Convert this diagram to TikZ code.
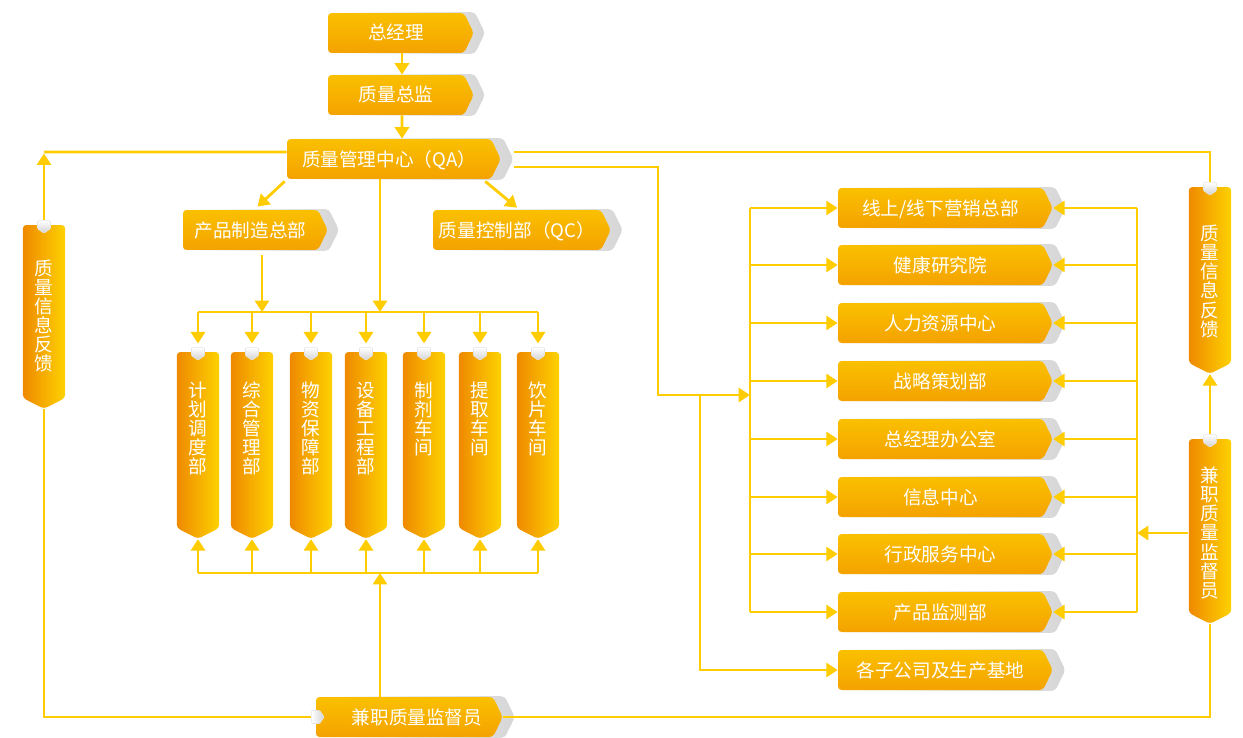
\documentclass[tikz,border=0pt]{standalone}
\usepackage{fontspec}
\setmainfont{Noto Sans CJK SC}
\usetikzlibrary{shapes.symbols,shadows,arrows.meta}

\definecolor{wiregold}{HTML}{FFCC00}
\definecolor{tagtop}{HTML}{FAC000}
\definecolor{tagbot}{HTML}{F4A200}
\definecolor{pillarleft}{HTML}{EF8900}
\definecolor{pillarright}{HTML}{FDD200}

\newcommand{\vstack}[1]{\parbox[t]{1.2em}{\centering #1}}

\begin{document}
\begin{tikzpicture} [x=0.02cm,y=-0.02cm,
	every node/.style={font=\fontsize{10.6}{10.9}\selectfont,text=white},
	tagbox/.style={signal,signal to=east,signal pointer angle=128,inner sep=0pt,text height=0.54cm,text depth=0.26cm,align=center,rounded corners=2pt,top color=tagtop,bottom color=tagbot,general shadow={shadow scale=1.04,shadow xshift=0.16cm,left color=white,right color=black!16}},
	pillar/.style={signal,signal to=south,signal pointer angle=126,inner xsep=0.2cm,inner ysep=0pt,text height=0.9cm,text depth=2.62cm,rounded corners=2pt,left color=pillarleft,right color=pillarright},
	notch/.style={signal,signal to=south,signal pointer angle=110,inner xsep=0.13cm,inner ysep=0.08cm,rounded corners=0.5pt,top color=white,bottom color=black!18,draw=black!10,line width=0.3pt},
	wire/.style={draw=wiregold,line width=1.6pt},
	wirearr/.style={wire,-{Triangle[width=8pt,length=6.5pt]}}]
			\path[use as bounding box,fill=white] (0,0) rectangle (1243,737);
			% management chain
			\node[tagbox,text width=2.72cm] (gm) at (396,33) {总经理};
			\node[tagbox,text width=2.72cm] (dir) at (396,95) {质量总监};
			\node[tagbox,text width=4.08cm] (qa) at (389,159) {质量管理中心（QA）};
			\node[tagbox,text width=2.7cm] (mfg) at (250.5,230) {产品制造总部};
			\node[tagbox,text width=3.36cm] (qc) at (517,230) {质量控制部（QC）};
			\node[tagbox,text width=3.54cm] (sup) at (404.5,717) {\hspace*{0.5cm}兼职质量监督员};
			% workshops
			\node[pillar] (sched) at (198,440) {\vstack{计\\划\\调\\度\\部}};
			\node[pillar] (integ) at (252,440) {\vstack{综\\合\\管\\理\\部}};
			\node[pillar] (supply) at (311,440) {\vstack{物\\资\\保\\障\\部}};
			\node[pillar] (equip) at (366,440) {\vstack{设\\备\\工\\程\\部}};
			\node[pillar] (prep) at (424,440) {\vstack{制\\剂\\车\\间}};
			\node[pillar] (extr) at (480,440) {\vstack{提\\取\\车\\间}};
			\node[pillar] (slice) at (538,440) {\vstack{饮\\片\\车\\间}};
			% feedback columns
			\node[pillar,text height=1.0cm,text depth=2.46cm] (fbL) at (44,311.5) {\vstack{质\\量\\信\\息\\反\\馈}};
			\node[pillar,text height=1.07cm,text depth=2.45cm] (fbR) at (1210,275) {\vstack{质\\量\\信\\息\\反\\馈}};
			\node[pillar,text height=0.87cm,text depth=2.61cm] (supR) at (1210,526) {\vstack{兼\\职\\质\\量\\监\\督\\员}};
			% departments
			\node[tagbox,text width=4.1cm] (web) at (940.5,208) {线上/线下营销总部};
			\node[tagbox,text width=4.1cm] (rnd) at (940.5,265) {健康研究院};
			\node[tagbox,text width=4.1cm] (hr) at (940.5,323) {人力资源中心};
			\node[tagbox,text width=4.1cm] (plan) at (940.5,381) {战略策划部};
			\node[tagbox,text width=4.1cm] (office) at (940.5,439) {总经理办公室};
			\node[tagbox,text width=4.1cm] (info) at (940.5,497) {信息中心};
			\node[tagbox,text width=4.1cm] (admin) at (940.5,554) {行政服务中心};
			\node[tagbox,text width=4.1cm] (test) at (940.5,612) {产品监测部};
			\node[tagbox,text width=4.1cm] (sub) at (940.5,670) {各子公司及生产基地};
			% notches
			\node[notch] (fbL-n) at (fbL.north) {};
			\node[notch] (fbR-n) at (fbR.north) {};
			\node[notch] (supR-n) at (supR.north) {};
			\node[notch,signal to=east,inner xsep=0.08cm,inner ysep=0.13cm,left color=white,right color=black!18] (sup-n) at (sup.west) {};
			\coordinate (topbus) at (380,312);
			\coordinate (botbus) at (380,573);
			\coordinate (mfgdrop) at (262,312);
			\coordinate (fbLc) at (44,152);
			\coordinate (qaturn) at (658,395);
			\coordinate (subturn) at (700,395);
			\coordinate (rbus) at (750,395);
			\coordinate (fbus) at (1137,533);
			% connectors
			\draw[wirearr] ([xshift=0.12cm]gm.south) -- ([xshift=0.12cm]dir.north);
			\draw[wirearr] ([xshift=0.12cm]dir.south) -- ([xshift=0.26cm]qa.north);
			\draw[wirearr] ([xshift=-0.04cm,yshift=-0.04cm]qa.south west) -- ([xshift=0.14cm,yshift=0.06cm]mfg.north);
			\draw[wirearr] ([xshift=-0.12cm,yshift=-0.04cm]qa.south east) -- ([yshift=0.04cm]qc.north);
			\draw[wirearr] (qa.south -| topbus) -- (topbus);
			\draw[wirearr,shorten <=0.1cm] (mfgdrop |- mfg.south) -- (mfgdrop);
			\draw[wire] (sched |- topbus) -- (slice |- topbus);
			\draw[wire] (sched |- botbus) -- (slice |- botbus);
			\foreach \c in {sched,integ,supply,equip,prep,extr,slice} {
				\node[notch] (\c-n) at (\c.north) {};
				\draw[wirearr] (\c |- topbus) -- ([yshift=0.08cm]\c-n.north);
				\draw[wirearr] (\c |- botbus) -- (\c.south);
			}
			\draw[wirearr] (sup.north -| botbus) -- (botbus);
			\draw[wire] ([yshift=0.14cm]qa.west) -- (fbLc);
			\draw[wirearr] (fbL-n.north) -- ([yshift=-0.03cm]fbLc);
			\draw[wire] (fbL.south) |- (sup-n.west);
			\draw[wire,shorten >=0.26cm] (fbR-n.north) |- ([yshift=0.14cm]qa.east);
			\draw[wirearr] (supR-n.north) -- (fbR.south);
			\draw[wire] (sup.east) -| (supR.south);
			\draw[wirearr] (supR.west |- fbus) -- (fbus);
			\draw[wirearr,shorten <=0.26cm] ([yshift=-0.16cm]qa.east) -| (qaturn) -- (rbus);
			\draw[wirearr] (subturn) |- (sub.west);
			\draw[wire] (web.west -| rbus) -- (test.west -| rbus);
			\draw[wire] (web.east -| fbus) -- (test.east -| fbus);
			\foreach \r in {web,rnd,hr,plan,office,info,admin,test} {
				\draw[wirearr] (\r.west -| rbus) -- (\r.west);
				\draw[wirearr] (\r.east -| fbus) -- (\r.east);
			}
\end{tikzpicture}
\end{document}
